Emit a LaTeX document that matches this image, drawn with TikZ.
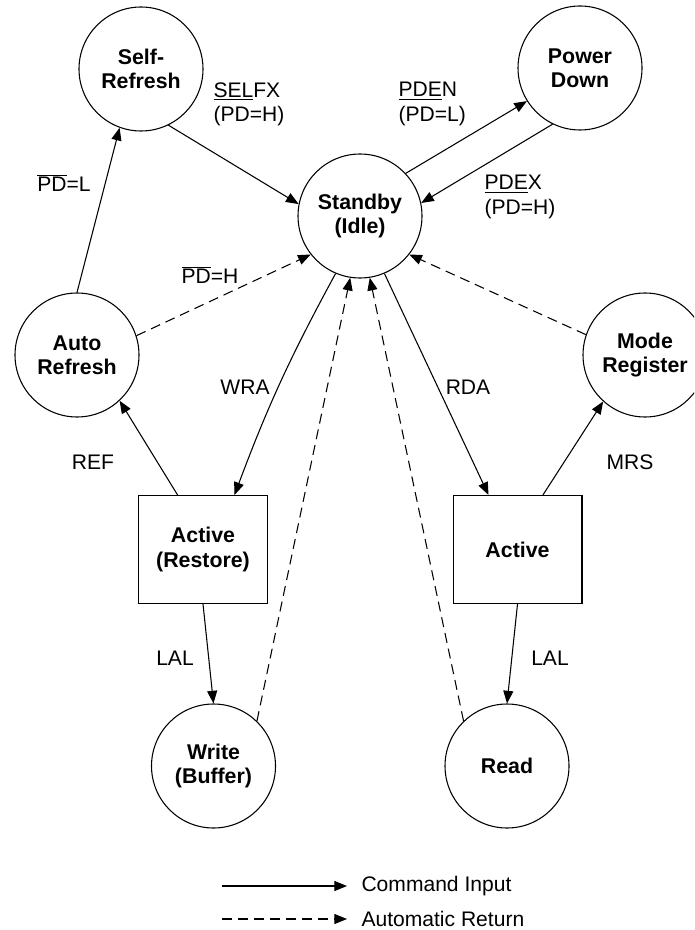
\documentclass[tikz,border=0pt]{standalone}
\usepackage{fontspec}
\setmainfont{Liberation Sans}
\usepackage{tikz}
\usetikzlibrary{arrows.meta, positioning, calc}

\newcommand{\ovl}[1]{$\overline{\hbox{#1}}$}

\begin{document}
\begin{tikzpicture}[x=0.75pt, y=-0.75pt, line width=0.8pt,
        >={Triangle[length=9.5pt,width=7.5pt]},
        font=\fontsize{15.8}{18.2}\selectfont,
        trangthai/.style={circle, draw, minimum size=93pt, inner sep=0pt, align=center, font=\fontsize{16}{18.2}\selectfont\bfseries},
        hop/.style={rectangle, draw, minimum width=96.7pt, minimum height=81pt, inner sep=0pt, align=center, font=\fontsize{16}{18.2}\selectfont\bfseries},
        nhan/.style={align=left, inner sep=0pt},
        tudong/.style={dash pattern=on 7.5pt off 4.5pt}]

        % Khung hình
        \clip (0,0) rectangle (694,930);

        % Các trạng thái
        \node[trangthai] (selfref) at (141,69) {Self-\\Refresh}; % Tự làm mới
        \node[trangthai] (pwrdown) at (580,68) {Power\\Down}; % Tắt nguồn
        \node[trangthai] (standby) at (360,216) {Standby\\(Idle)}; % Chờ
        \node[trangthai] (autoref) at (77,355) {Auto\\Refresh};
        \node[trangthai] (modereg) at (645,355) {Mode\\Register};
        \node[hop] (actrest) at (203,549.5) {Active\\(Restore)};
        \node[hop] (active) at (517.5,549.5) {Active};
        \node[trangthai] (write) at (213.5,766) {Write\\(Buffer)};
        \node[trangthai] (read) at (507,766) {Read};

        % Lệnh (nét liền)
        \draw[->] (autoref.north) -- (selfref.250);
        \draw[->] (selfref.296) -- (standby.169);
        \draw[->] (standby.43) -- (pwrdown.212);
        \draw[->] (pwrdown.244) -- (standby.12);
        \draw[->] (standby.247) to[bend right=4] (actrest.60);
        \draw[->] (standby.293) -- (active.118);
        \draw[->] (actrest.115) -- (autoref.313);
        \draw[->] (active.65) -- (modereg.228);
        \draw[->] (actrest.south) -- (write.north);
        \draw[->] (active.south) -- (read.north);

        % Tự động trở về (nét đứt)
        \draw[->, tudong] (autoref.18) -- (standby.218);
        \draw[->, tudong] (modereg.161) -- (standby.322);
        \draw[->, tudong] (write.46) -- (standby.261);
        \draw[->, tudong] (read.134) -- (standby.279);

        % Nhãn
        \node (lblpdl) at (64,183) {\ovl{PD}=L};
        \node[nhan, anchor=west] (lblselfx) at (213,104) {\underline{SEL}FX\\(PD=H)};
        \node[nhan, anchor=west] (lblpden) at (398,104) {\underline{PDE}N\\(PD=L)};
        \node[nhan, anchor=west] (lblpdex) at (484,197) {\underline{PDE}X\\(PD=H)};
        \node (lblpdh) at (210,275) {\ovl{PD}=H};
        \node (lblwra) at (245,387) {WRA};
        \node (lblrda) at (468,387) {RDA};
        \node (lblref) at (93,462) {REF};
        \node (lblmrs) at (630,462) {MRS};
        \node (lbllalw) at (175,658) {LAL};
        \node (lbllalr) at (550,658) {LAL};

        % Chú thích
        \coordinate (lgcmdstart) at (222,886);
        \coordinate (lgautostart) at (222,919);
        \node[nhan, anchor=west] (lgcmd) at (361,886) {Command Input};
        \node[nhan, anchor=west] (lgauto) at (361,919) {Automatic Return};
        \draw[->, shorten >=10.5pt] (lgcmdstart) -- (lgcmd.west);
        \draw[->, tudong, shorten >=10.5pt] (lgautostart) -- (lgauto.west);

\end{tikzpicture}
\end{document}
